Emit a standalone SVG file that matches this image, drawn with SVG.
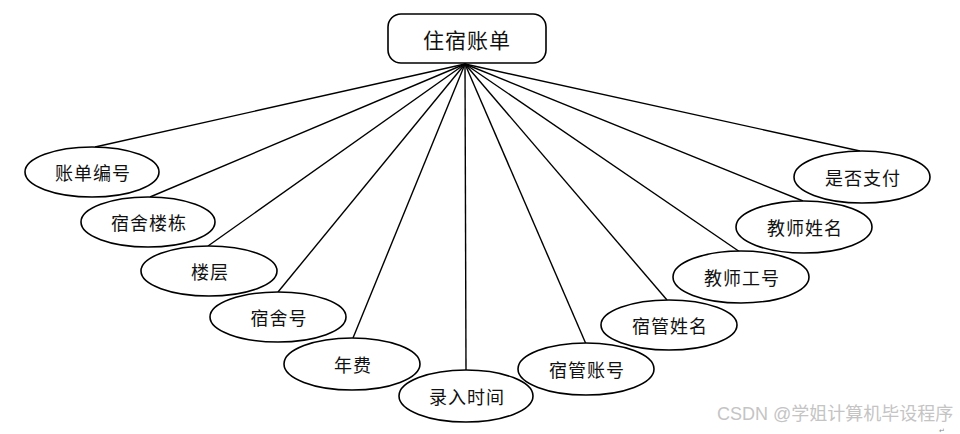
<svg xmlns="http://www.w3.org/2000/svg" width="960" height="434" viewBox="0 0 960 434">
<style>
.n{fill:#fff;stroke:#000;stroke-width:1.6}
.t{font-family:"Noto Sans CJK SC","Noto Sans",sans-serif;font-size:18px;fill:#111;text-anchor:middle;dominant-baseline:central;letter-spacing:1px}
.c line{stroke:#000;stroke-width:1.4}
.w{font-family:"Liberation Sans","Noto Sans CJK SC",sans-serif;font-size:18px;fill:#c4c4c4}
</style>
<rect width="960" height="434" fill="#fff"/>
<g class="c" id="connectors">
<line x1="465" y1="64" x2="95" y2="147"/>
<line x1="465" y1="64" x2="150" y2="197"/>
<line x1="465" y1="64" x2="208" y2="246"/>
<line x1="465" y1="64" x2="278" y2="292"/>
<line x1="465" y1="64" x2="353" y2="338"/>
<line x1="465" y1="64" x2="466" y2="370"/>
<line x1="465" y1="64" x2="586" y2="344"/>
<line x1="465" y1="64" x2="667" y2="300"/>
<line x1="465" y1="64" x2="740" y2="252"/>
<line x1="465" y1="64" x2="803" y2="201"/>
<line x1="465" y1="64" x2="860" y2="151"/>
</g>
<g id="root"><rect class="n" x="388" y="14" width="158" height="49" rx="13"/><text class="t" x="467" y="39" style="font-size:21px">住宿账单</text></g>
<g id="a1"><ellipse class="n" cx="92" cy="172" rx="67" ry="25"/><text class="t" x="93" y="172">账单编号</text></g>
<g id="a2"><ellipse class="n" cx="148" cy="222" rx="67" ry="25"/><text class="t" x="149" y="222">宿舍楼栋</text></g>
<g id="a3"><ellipse class="n" cx="209" cy="271" rx="68" ry="25"/><text class="t" x="210" y="271">楼层</text></g>
<g id="a4"><ellipse class="n" cx="278" cy="317" rx="68" ry="25"/><text class="t" x="279" y="317">宿舍号</text></g>
<g id="a5"><ellipse class="n" cx="352" cy="364" rx="68" ry="26"/><text class="t" x="353" y="364">年费</text></g>
<g id="a6"><ellipse class="n" cx="466" cy="396" rx="67" ry="26"/><text class="t" x="467" y="396">录入时间</text></g>
<g id="a7"><ellipse class="n" cx="586" cy="369" rx="68" ry="26"/><text class="t" x="587" y="369">宿管账号</text></g>
<g id="a8"><ellipse class="n" cx="669" cy="325" rx="68" ry="25"/><text class="t" x="670" y="325">宿管姓名</text></g>
<g id="a9"><ellipse class="n" cx="741" cy="277" rx="68" ry="26"/><text class="t" x="742" y="277">教师工号</text></g>
<g id="a10"><ellipse class="n" cx="804" cy="227" rx="68" ry="26"/><text class="t" x="805" y="227">教师姓名</text></g>
<g id="a11"><ellipse class="n" cx="862" cy="177" rx="68" ry="26"/><text class="t" x="863" y="177">是否支付</text></g>
<text class="w" x="717" y="420">CSDN @学姐计算机毕设程序</text>
<text x="939" y="433" style="font-family:'DejaVu Sans',sans-serif;font-size:7px;fill:#888">↵</text>
</svg>
